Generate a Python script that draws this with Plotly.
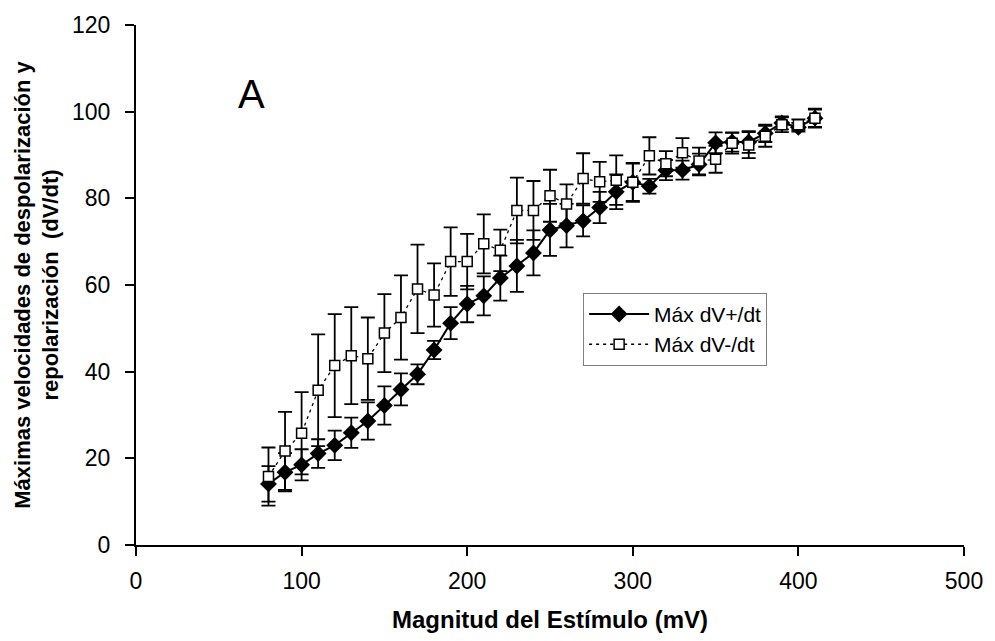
import plotly.graph_objects as go

stimulus = [80, 90, 100, 110, 120, 130, 140, 150, 160, 170, 180, 190, 200, 210, 220, 230, 240,
            250, 260, 270, 280, 290, 300, 310, 320, 330, 340, 350, 360, 370, 380, 390, 400, 410]

dv_pos = [14.1, 16.8, 18.5, 21.1, 23.0, 25.9, 28.6, 32.2, 35.9, 39.4, 45.0, 51.2, 55.6, 57.5, 61.6, 64.4, 67.4,
          72.7, 73.7, 74.8, 77.9, 81.5, 83.7, 82.8, 86.5, 86.5, 87.8, 92.8, 93.0, 93.0, 95.0, 97.4, 96.4, 98.5]
dv_pos_err = [4.1, 4.4, 3.6, 3.3, 3.4, 3.5, 4.3, 4.4, 3.7, 2.3, 2.1, 3.7, 4.2, 4.5, 5.2, 6.0, 5.2,
              6.0, 5.0, 3.6, 3.6, 4.0, 4.5, 1.7, 2.3, 2.2, 2.5, 2.4, 2.2, 2.5, 2.0, 1.5, 1.0, 2.0]

dv_neg = [15.8, 21.7, 25.8, 35.7, 41.4, 43.7, 43.0, 48.9, 52.5, 59.1, 57.7, 65.4, 65.4, 69.5, 68.0, 77.2, 77.2,
          80.6, 78.7, 84.6, 83.8, 84.2, 83.7, 89.8, 88.0, 90.5, 88.6, 89.0, 92.7, 92.3, 94.3, 97.0, 97.0, 98.5]
dv_neg_err = [6.7, 9.0, 9.5, 12.9, 11.9, 11.2, 9.5, 9.0, 9.7, 10.2, 7.3, 7.9, 6.4, 6.8, 4.8, 7.6, 6.8,
              6.0, 4.5, 5.8, 4.6, 5.7, 4.3, 4.3, 2.9, 3.4, 3.1, 3.1, 2.4, 3.0, 2.4, 1.7, 1.2, 2.2]

x_ticks = [0, 100, 200, 300, 400, 500]
y_ticks = [0, 20, 40, 60, 80, 100, 120]

FONT = "Liberation Sans, Arial, sans-serif"

fig = go.Figure()
fig.add_trace(go.Scatter(
    x=stimulus, y=dv_pos, name="Máx dV+/dt", mode="lines+markers",
    line=dict(color="black", width=2),
    marker=dict(symbol="diamond", size=13, color="black"),
    error_y=dict(type="data", array=dv_pos_err, visible=True, color="black", thickness=1.8, width=7),
))
fig.add_trace(go.Scatter(
    x=stimulus, y=dv_neg, name="Máx dV-/dt", mode="lines+markers",
    line=dict(color="black", width=1.3, dash="3px,4px"),
    marker=dict(symbol="square", size=10, color="white", line=dict(color="black", width=1.5)),
    error_y=dict(type="data", array=dv_neg_err, visible=True, color="black", thickness=1.8, width=7),
))

axis_common = dict(
    showgrid=False, zeroline=False, showline=True, linecolor="black", linewidth=2,
    ticks="outside", ticklen=9, tickwidth=2, tickcolor="black",
    tickfont=dict(family=FONT, size=23, color="black"),
)
fig.update_xaxes(range=[0, 500], tickvals=x_ticks, ticklabelstandoff=5, **axis_common)
fig.update_yaxes(range=[0, 120], tickvals=y_ticks, ticklabelstandoff=10, **axis_common)

fig.add_annotation(text="Magnitud del Estímulo (mV)", xref="paper", yref="paper",
                   x=0.5, y=-0.143, xanchor="center", yanchor="middle", showarrow=False,
                   font=dict(family=FONT, size=24, color="black", weight="bold"))
fig.add_annotation(text="Máximas velocidades de despolarización y<br>repolarización  (dV/dt)",
                   xref="paper", yref="paper", x=-0.1199, y=0.5, xanchor="center", yanchor="middle",
                   textangle=-90, showarrow=False,
                   font=dict(family=FONT, size=22, color="black", weight="bold"))
fig.add_annotation(text="A", xref="x", yref="y", x=70, y=104, showarrow=False,
                   xanchor="center", yanchor="middle",
                   font=dict(family=FONT, size=40, color="black"))

fig.update_layout(
    width=995, height=641,
    margin=dict(l=136, r=20, t=16, b=96),
    paper_bgcolor="white", plot_bgcolor="white",
    showlegend=True,
    legend=dict(x=0.54, y=0.485, xanchor="left", yanchor="top",
                bgcolor="white", bordercolor="#808080", borderwidth=1,
                font=dict(family=FONT, size=21, color="black"),
                itemwidth=60, tracegroupgap=0),
)

fig.write_html("out.html")
